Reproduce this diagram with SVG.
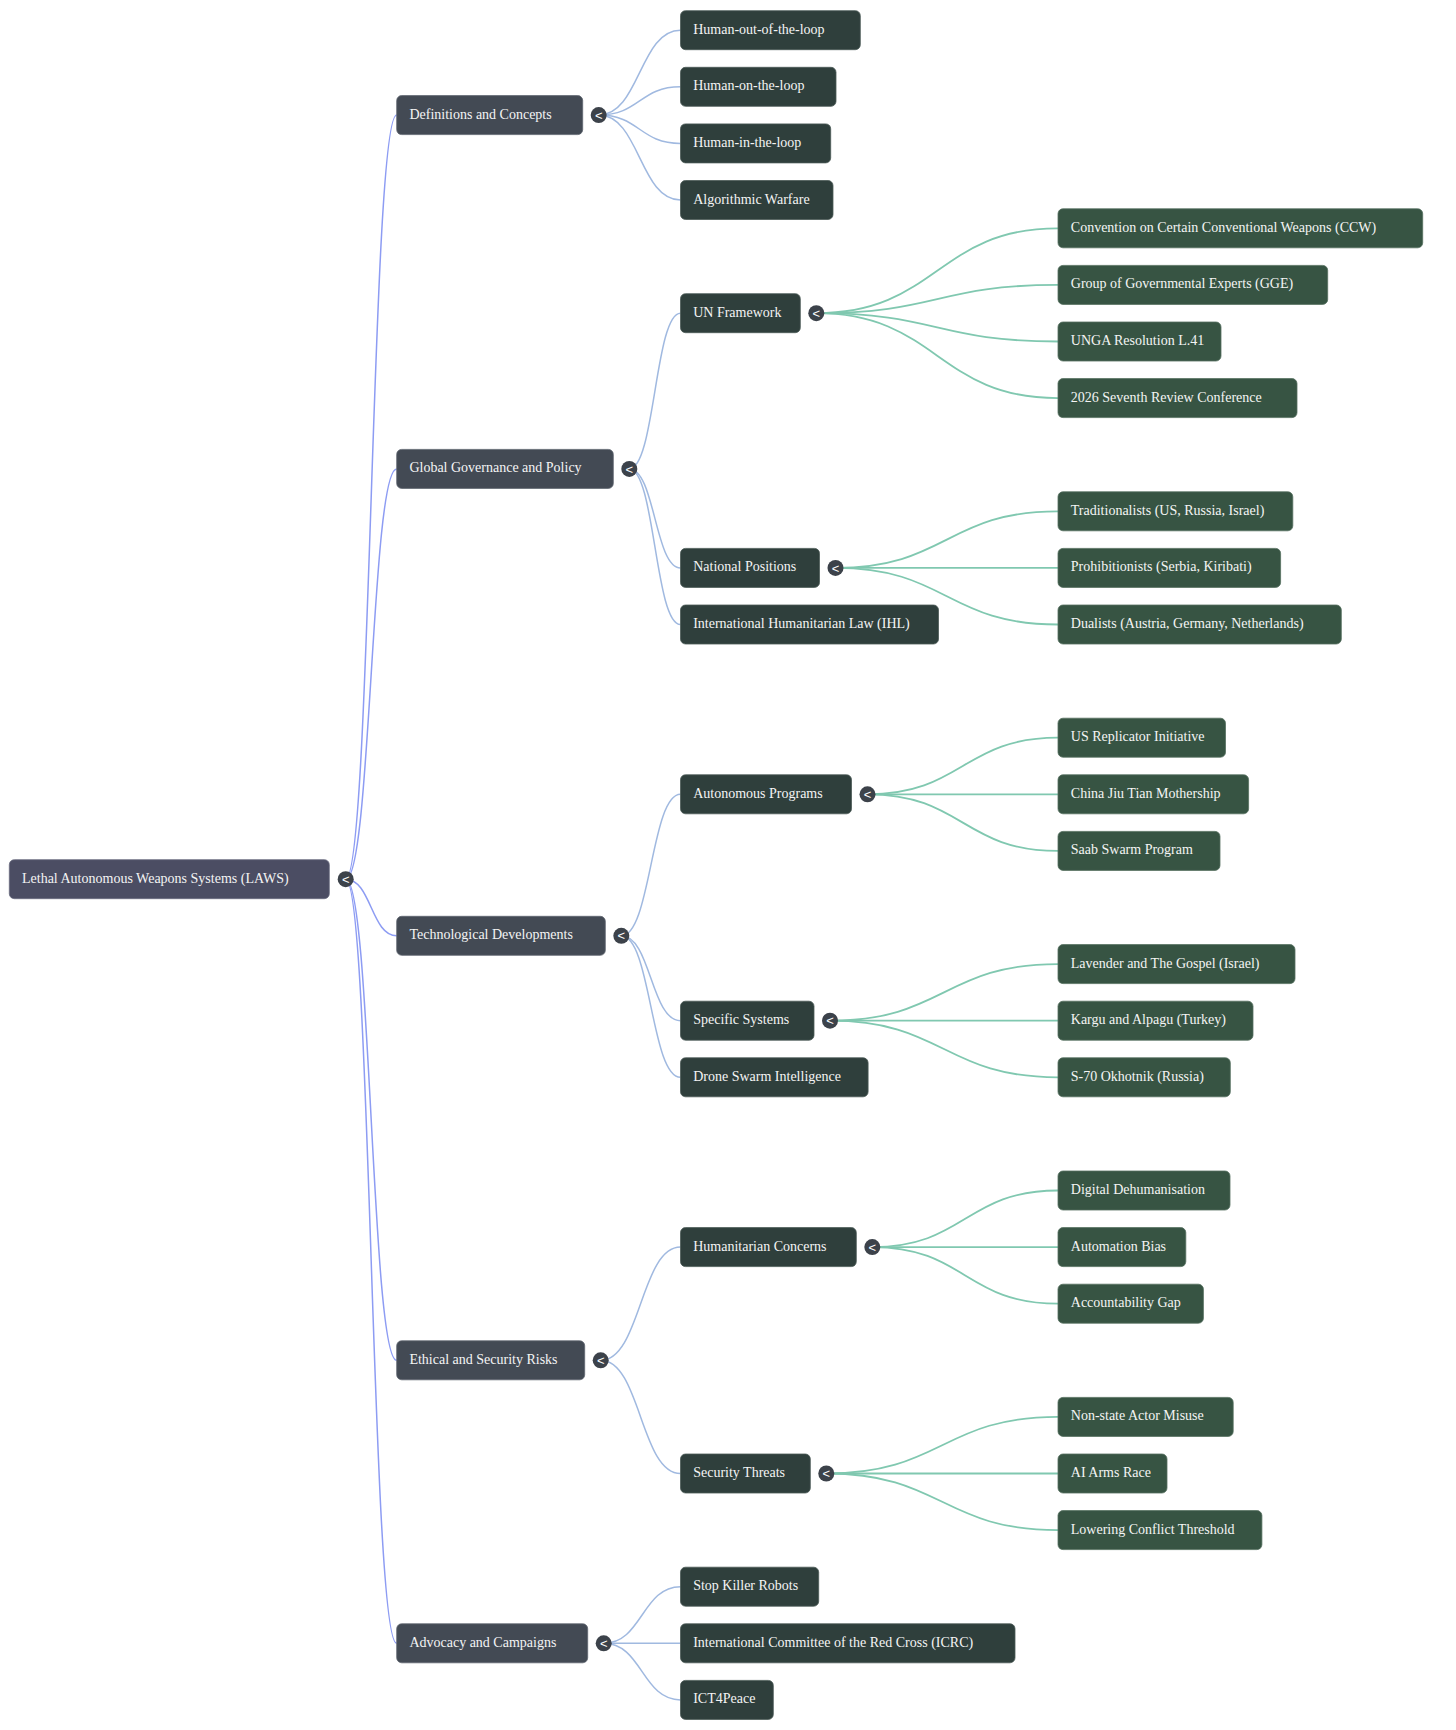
<svg xmlns="http://www.w3.org/2000/svg" width="1456" height="1730" viewBox="0 0 1456 1730">
<style>
  .bg { fill: #ffffff; }
  .n0 rect { fill: #4b4d63; stroke: #6a6c80; stroke-width: 0.8; }
  .n1 rect { fill: #434a54; stroke: #5f6670; stroke-width: 0.8; }
  .n2 rect { fill: #2f3f3c; stroke: #4b5a57; stroke-width: 0.8; }
  .n3 rect { fill: #375443; stroke: #557060; stroke-width: 0.8; }
  .node text { font-family: "Liberation Serif", "Times New Roman", serif; font-size: 14px; fill: #f4f4f4; transform: translate(0px, -0.8px); }
  .tog circle { fill: #3c424a; }
  .tog text { font-family: "Liberation Sans", Arial, sans-serif; font-size: 13px; fill: #ffffff; text-anchor: middle; }
  .e0 { fill: none; stroke: #8d9cf3; stroke-width: 1.5; }
  .e1 { fill: none; stroke: #a0b9e0; stroke-width: 1.5; }
  .e2 { fill: none; stroke: #80c8b0; stroke-width: 1.8; }
</style>
<rect class="bg" x="0" y="0" width="1456" height="1730"/>

<g id="connectors">
  <!-- root to level 1 -->
  <path class="e0" d="M345.7 879.2 C371.2 879.2 371.2 115.1 396.7 115.1"/>
  <path class="e0" d="M345.7 879.2 C371.2 879.2 371.2 468.9 396.7 468.9"/>
  <path class="e0" d="M345.7 879.2 C371.2 879.2 371.2 935.8 396.7 935.8"/>
  <path class="e0" d="M345.7 879.2 C371.2 879.2 371.2 1360.3 396.7 1360.3"/>
  <path class="e0" d="M345.7 879.2 C371.2 879.2 371.2 1643.3 396.7 1643.3"/>
  <!-- Definitions -->
  <path class="e1" d="M598.7 115.1 C639.6 115.1 639.6 30.2 680.5 30.2"/>
  <path class="e1" d="M598.7 115.1 C639.6 115.1 639.6 86.8 680.5 86.8"/>
  <path class="e1" d="M598.7 115.1 C639.6 115.1 639.6 143.4 680.5 143.4"/>
  <path class="e1" d="M598.7 115.1 C639.6 115.1 639.6 200.0 680.5 200.0"/>
  <!-- Global Governance -->
  <path class="e1" d="M629.3 468.9 C654.9 468.9 654.9 313.2 680.5 313.2"/>
  <path class="e1" d="M629.3 468.9 C654.9 468.9 654.9 567.9 680.5 567.9"/>
  <path class="e1" d="M629.3 468.9 C654.9 468.9 654.9 624.5 680.5 624.5"/>
  <!-- Technological -->
  <path class="e1" d="M621.3 935.8 C650.9 935.8 650.9 794.3 680.5 794.3"/>
  <path class="e1" d="M621.3 935.8 C650.9 935.8 650.9 1020.7 680.5 1020.7"/>
  <path class="e1" d="M621.3 935.8 C650.9 935.8 650.9 1077.3 680.5 1077.3"/>
  <!-- Ethical -->
  <path class="e1" d="M600.7 1360.3 C640.6 1360.3 640.6 1247.1 680.5 1247.1"/>
  <path class="e1" d="M600.7 1360.3 C640.6 1360.3 640.6 1473.5 680.5 1473.5"/>
  <!-- Advocacy -->
  <path class="e1" d="M603.7 1643.3 C642.1 1643.3 642.1 1586.7 680.5 1586.7"/>
  <path class="e1" d="M603.7 1643.3 C642.1 1643.3 642.1 1643.3 680.5 1643.3"/>
  <path class="e1" d="M603.7 1643.3 C642.1 1643.3 642.1 1699.9 680.5 1699.9"/>
  <!-- UN Framework -->
  <path class="e2" d="M816.3 313.2 C937.2 313.2 937.2 228.3 1058 228.3"/>
  <path class="e2" d="M816.3 313.2 C937.2 313.2 937.2 284.9 1058 284.9"/>
  <path class="e2" d="M816.3 313.2 C937.2 313.2 937.2 341.5 1058 341.5"/>
  <path class="e2" d="M816.3 313.2 C937.2 313.2 937.2 398.1 1058 398.1"/>
  <!-- National Positions -->
  <path class="e2" d="M835.5 567.9 C946.8 567.9 946.8 511.3 1058 511.3"/>
  <path class="e2" d="M835.5 567.9 C946.8 567.9 946.8 567.9 1058 567.9"/>
  <path class="e2" d="M835.5 567.9 C946.8 567.9 946.8 624.5 1058 624.5"/>
  <!-- Autonomous Programs -->
  <path class="e2" d="M867.5 794.3 C962.8 794.3 962.8 737.7 1058 737.7"/>
  <path class="e2" d="M867.5 794.3 C962.8 794.3 962.8 794.3 1058 794.3"/>
  <path class="e2" d="M867.5 794.3 C962.8 794.3 962.8 850.9 1058 850.9"/>
  <!-- Specific Systems -->
  <path class="e2" d="M830 1020.7 C944 1020.7 944 964.1 1058 964.1"/>
  <path class="e2" d="M830 1020.7 C944 1020.7 944 1020.7 1058 1020.7"/>
  <path class="e2" d="M830 1020.7 C944 1020.7 944 1077.3 1058 1077.3"/>
  <!-- Humanitarian Concerns -->
  <path class="e2" d="M872.3 1247.1 C965.2 1247.1 965.2 1190.5 1058 1190.5"/>
  <path class="e2" d="M872.3 1247.1 C965.2 1247.1 965.2 1247.1 1058 1247.1"/>
  <path class="e2" d="M872.3 1247.1 C965.2 1247.1 965.2 1303.7 1058 1303.7"/>
  <!-- Security Threats -->
  <path class="e2" d="M826.3 1473.5 C942.2 1473.5 942.2 1416.9 1058 1416.9"/>
  <path class="e2" d="M826.3 1473.5 C942.2 1473.5 942.2 1473.5 1058 1473.5"/>
  <path class="e2" d="M826.3 1473.5 C942.2 1473.5 942.2 1530.1 1058 1530.1"/>
</g>

<!-- Root -->
<g id="root" class="node n0">
  <rect x="9.3" y="859.7" width="320" height="39" rx="5"/>
  <text x="22" y="883.6">Lethal Autonomous Weapons Systems (LAWS)</text>
</g>
<g id="root-toggle" class="tog"><circle cx="345.7" cy="879.2" r="8"/><text x="345.7" y="883.8">&lt;</text></g>

<!-- Level 1 -->
<g id="definitions" class="node n1">
  <rect x="396.7" y="95.6" width="186" height="39" rx="5"/>
  <text x="409.4" y="119.5">Definitions and Concepts</text>
</g>
<g id="definitions-toggle" class="tog"><circle cx="598.7" cy="115.1" r="8"/><text x="598.7" y="119.7">&lt;</text></g>

<g id="governance" class="node n1">
  <rect x="396.7" y="449.4" width="216.6" height="39" rx="5"/>
  <text x="409.4" y="473.3">Global Governance and Policy</text>
</g>
<g id="governance-toggle" class="tog"><circle cx="629.3" cy="468.9" r="8"/><text x="629.3" y="473.5">&lt;</text></g>

<g id="technology" class="node n1">
  <rect x="396.7" y="916.3" width="208.6" height="39" rx="5"/>
  <text x="409.4" y="940.2">Technological Developments</text>
</g>
<g id="technology-toggle" class="tog"><circle cx="621.3" cy="935.8" r="8"/><text x="621.3" y="940.4">&lt;</text></g>

<g id="ethics" class="node n1">
  <rect x="396.7" y="1340.8" width="188" height="39" rx="5"/>
  <text x="409.4" y="1364.7">Ethical and Security Risks</text>
</g>
<g id="ethics-toggle" class="tog"><circle cx="600.7" cy="1360.3" r="8"/><text x="600.7" y="1364.9">&lt;</text></g>

<g id="advocacy" class="node n1">
  <rect x="396.7" y="1623.8" width="191" height="39" rx="5"/>
  <text x="409.4" y="1647.7">Advocacy and Campaigns</text>
</g>
<g id="advocacy-toggle" class="tog"><circle cx="603.7" cy="1643.3" r="8"/><text x="603.7" y="1647.9">&lt;</text></g>

<!-- Level 2 -->
<g id="human-out" class="node n2"><rect x="680.5" y="10.7" width="179.8" height="39" rx="5"/><text x="693.2" y="34.6">Human-out-of-the-loop</text></g>
<g id="human-on" class="node n2"><rect x="680.5" y="67.3" width="155.5" height="39" rx="5"/><text x="693.2" y="91.2">Human-on-the-loop</text></g>
<g id="human-in" class="node n2"><rect x="680.5" y="123.9" width="150.2" height="39" rx="5"/><text x="693.2" y="147.8">Human-in-the-loop</text></g>
<g id="algorithmic" class="node n2"><rect x="680.5" y="180.5" width="152.5" height="39" rx="5"/><text x="693.2" y="204.4">Algorithmic Warfare</text></g>

<g id="un-framework" class="node n2"><rect x="680.5" y="293.7" width="119.8" height="39" rx="5"/><text x="693.2" y="317.6">UN Framework</text></g>
<g id="un-framework-toggle" class="tog"><circle cx="816.3" cy="313.2" r="8"/><text x="816.3" y="317.8">&lt;</text></g>
<g id="national-positions" class="node n2"><rect x="680.5" y="548.4" width="139" height="39" rx="5"/><text x="693.2" y="572.3">National Positions</text></g>
<g id="national-positions-toggle" class="tog"><circle cx="835.5" cy="567.9" r="8"/><text x="835.5" y="572.5">&lt;</text></g>
<g id="ihl" class="node n2"><rect x="680.5" y="605" width="258" height="39" rx="5"/><text x="693.2" y="628.9">International Humanitarian Law (IHL)</text></g>

<g id="autonomous-programs" class="node n2"><rect x="680.5" y="774.8" width="171" height="39" rx="5"/><text x="693.2" y="798.7">Autonomous Programs</text></g>
<g id="autonomous-programs-toggle" class="tog"><circle cx="867.5" cy="794.3" r="8"/><text x="867.5" y="798.9">&lt;</text></g>
<g id="specific-systems" class="node n2"><rect x="680.5" y="1001.2" width="133.5" height="39" rx="5"/><text x="693.2" y="1025.1">Specific Systems</text></g>
<g id="specific-systems-toggle" class="tog"><circle cx="830" cy="1020.7" r="8"/><text x="830" y="1025.3">&lt;</text></g>
<g id="drone-swarm" class="node n2"><rect x="680.5" y="1057.8" width="187.6" height="39" rx="5"/><text x="693.2" y="1081.7">Drone Swarm Intelligence</text></g>

<g id="humanitarian" class="node n2"><rect x="680.5" y="1227.6" width="175.8" height="39" rx="5"/><text x="693.2" y="1251.5">Humanitarian Concerns</text></g>
<g id="humanitarian-toggle" class="tog"><circle cx="872.3" cy="1247.1" r="8"/><text x="872.3" y="1251.7">&lt;</text></g>
<g id="security-threats" class="node n2"><rect x="680.5" y="1454" width="129.8" height="39" rx="5"/><text x="693.2" y="1477.9">Security Threats</text></g>
<g id="security-threats-toggle" class="tog"><circle cx="826.3" cy="1473.5" r="8"/><text x="826.3" y="1478.1">&lt;</text></g>

<g id="stop-killer-robots" class="node n2"><rect x="680.5" y="1567.2" width="138.2" height="39" rx="5"/><text x="693.2" y="1591.1">Stop Killer Robots</text></g>
<g id="icrc" class="node n2"><rect x="680.5" y="1623.8" width="334.5" height="39" rx="5"/><text x="693.2" y="1647.7">International Committee of the Red Cross (ICRC)</text></g>
<g id="ict4peace" class="node n2"><rect x="680.5" y="1680.4" width="92.8" height="39" rx="5"/><text x="693.2" y="1704.3">ICT4Peace</text></g>

<!-- Level 3 -->
<g id="ccw" class="node n3"><rect x="1058" y="208.8" width="364.7" height="39" rx="5"/><text x="1070.8" y="232.7">Convention on Certain Conventional Weapons (CCW)</text></g>
<g id="gge" class="node n3"><rect x="1058" y="265.4" width="269.7" height="39" rx="5"/><text x="1070.8" y="289.3">Group of Governmental Experts (GGE)</text></g>
<g id="unga" class="node n3"><rect x="1058" y="322" width="163" height="39" rx="5"/><text x="1070.8" y="345.9">UNGA Resolution L.41</text></g>
<g id="review-2026" class="node n3"><rect x="1058" y="378.6" width="239" height="39" rx="5"/><text x="1070.8" y="402.5">2026 Seventh Review Conference</text></g>

<g id="traditionalists" class="node n3"><rect x="1058" y="491.8" width="234.8" height="39" rx="5"/><text x="1070.8" y="515.7">Traditionalists (US, Russia, Israel)</text></g>
<g id="prohibitionists" class="node n3"><rect x="1058" y="548.4" width="222.6" height="39" rx="5"/><text x="1070.8" y="572.3">Prohibitionists (Serbia, Kiribati)</text></g>
<g id="dualists" class="node n3"><rect x="1058" y="605" width="283.3" height="39" rx="5"/><text x="1070.8" y="628.9">Dualists (Austria, Germany, Netherlands)</text></g>

<g id="us-replicator" class="node n3"><rect x="1058" y="718.2" width="167.5" height="39" rx="5"/><text x="1070.8" y="742.1">US Replicator Initiative</text></g>
<g id="china-jiu-tian" class="node n3"><rect x="1058" y="774.8" width="190.6" height="39" rx="5"/><text x="1070.8" y="798.7">China Jiu Tian Mothership</text></g>
<g id="saab-swarm" class="node n3"><rect x="1058" y="831.4" width="162" height="39" rx="5"/><text x="1070.8" y="855.3">Saab Swarm Program</text></g>

<g id="lavender" class="node n3"><rect x="1058" y="944.6" width="237" height="39" rx="5"/><text x="1070.8" y="968.5">Lavender and The Gospel (Israel)</text></g>
<g id="kargu" class="node n3"><rect x="1058" y="1001.2" width="195" height="39" rx="5"/><text x="1070.8" y="1025.1">Kargu and Alpagu (Turkey)</text></g>
<g id="s70" class="node n3"><rect x="1058" y="1057.8" width="172.3" height="39" rx="5"/><text x="1070.8" y="1081.7">S-70 Okhotnik (Russia)</text></g>

<g id="digital-dehumanisation" class="node n3"><rect x="1058" y="1171" width="172" height="39" rx="5"/><text x="1070.8" y="1194.9">Digital Dehumanisation</text></g>
<g id="automation-bias" class="node n3"><rect x="1058" y="1227.6" width="127.8" height="39" rx="5"/><text x="1070.8" y="1251.5">Automation Bias</text></g>
<g id="accountability-gap" class="node n3"><rect x="1058" y="1284.2" width="145.4" height="39" rx="5"/><text x="1070.8" y="1308.1">Accountability Gap</text></g>

<g id="non-state" class="node n3"><rect x="1058" y="1397.4" width="175.2" height="39" rx="5"/><text x="1070.8" y="1421.3">Non-state Actor Misuse</text></g>
<g id="ai-arms-race" class="node n3"><rect x="1058" y="1454" width="109" height="39" rx="5"/><text x="1070.8" y="1477.9">AI Arms Race</text></g>
<g id="lowering-threshold" class="node n3"><rect x="1058" y="1510.6" width="203.9" height="39" rx="5"/><text x="1070.8" y="1534.5">Lowering Conflict Threshold</text></g>
</svg>
